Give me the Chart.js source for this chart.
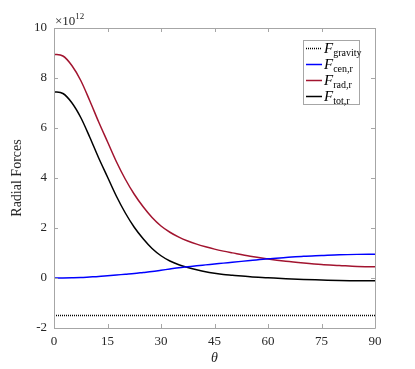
<!DOCTYPE html>
<html>
<head>
<meta charset="utf-8">
<script src="https://cdn.jsdelivr.net/npm/chart.js@4"></script>
<style>
html,body{margin:0;padding:0;background:#fff;}
#wrap{width:415px;height:369px;}
</style>
</head>
<body>
<div id="wrap"><canvas id="c" width="415" height="369"></canvas></div>
<script>
const theta = [0,2.5,5,7.5,10,12.5,15,17.5,20,22.5,25,27.5,30,32.5,35,37.5,40,42.5,45,47.5,50,55,60,65,70,75,80,85,90];
const fRad  = [8.95,8.88,8.5,7.9,7.1,6.25,5.45,4.65,3.95,3.35,2.85,2.42,2.08,1.83,1.635,1.48,1.355,1.25,1.155,1.075,1.005,0.87,0.76,0.67,0.6,0.54,0.5,0.46,0.45];
const fCen  = [0,0.003,0.01,0.02,0.04,0.06,0.09,0.12,0.15,0.18,0.22,0.26,0.31,0.36,0.41,0.45,0.49,0.525,0.56,0.595,0.63,0.70,0.77,0.82,0.87,0.90,0.93,0.945,0.95];
const fTot  = [7.45,7.38,7.01,6.42,5.64,4.81,4.04,3.27,2.6,2.03,1.57,1.18,0.89,0.68,0.53,0.42,0.33,0.25,0.19,0.14,0.11,0.05,0.01,-0.03,-0.06,-0.08,-0.1,-0.11,-0.11];
const fGrav = [-1.5,-1.5];
const gravTheta = [0,90];
const xTicks = [0,15,30,45,60,75,90];
const yTicks = [-2,0,2,4,6,8,10];
const legendNames = [["F","gravity"],["F","cen,r"],["F","rad,r"],["F","tot,r"]];

const pts = (xs, ys) => xs.map((x,i)=>({x:x,y:ys[i]}));
const SERIF = '"Liberation Serif","DejaVu Serif",serif';

const decor = {
  id:'decor',
  afterDraw(chart){
    const ctx = chart.ctx, xs = chart.scales.x, ys = chart.scales.y, a = chart.chartArea;
    ctx.save();
    ctx.strokeStyle = '#a6a6a6';
    ctx.lineWidth = 1;
    ctx.beginPath();
    ctx.rect(Math.round(a.left)+0.5, Math.round(a.top)+0.5, Math.round(a.right-a.left), Math.round(a.bottom-a.top));
    ctx.stroke();
    ctx.beginPath();
    xTicks.forEach(v=>{
      const px = Math.round(xs.getPixelForValue(v))+0.5;
      ctx.moveTo(px,a.bottom); ctx.lineTo(px,a.bottom-4);
      ctx.moveTo(px,a.top); ctx.lineTo(px,a.top+4);
    });
    yTicks.forEach(v=>{
      const py = Math.round(ys.getPixelForValue(v))+0.5;
      ctx.moveTo(a.left,py); ctx.lineTo(a.left+4,py);
      ctx.moveTo(a.right,py); ctx.lineTo(a.right-4,py);
    });
    ctx.stroke();
    ctx.fillStyle = '#262626';
    ctx.textBaseline = 'alphabetic';
    ctx.textAlign = 'left';
    ctx.font = '13px '+SERIF;
    ctx.fillText('\u00d710', a.left+1, a.top-3);
    const w = ctx.measureText('\u00d710').width;
    ctx.font = '9px '+SERIF;
    ctx.fillText('12', a.left+1+w, a.top-9);
    ctx.font = 'italic 14px '+SERIF;
    ctx.textAlign = 'center';
    ctx.fillText('\u03b8', (a.left+a.right)/2, 362);
    ctx.save();
    ctx.translate(21, (a.top+a.bottom)/2);
    ctx.rotate(-Math.PI/2);
    ctx.font = '14px '+SERIF;
    ctx.fillText('Radial Forces', 0, 0);
    ctx.restore();
    const lx = 303, ly = 40, lw = 56, lh = 64;
    ctx.fillStyle = '#fff';
    ctx.fillRect(lx, ly, lw, lh);
    ctx.strokeStyle = '#a6a6a6';
    ctx.lineWidth = 1;
    ctx.strokeRect(lx+0.5, ly+0.5, lw, lh);
    chart.data.datasets.forEach((ds,i)=>{
      const yy = ly + 8 + i*16;
      ctx.strokeStyle = ds.borderColor;
      ctx.lineWidth = ds.borderWidth;
      ctx.setLineDash(ds.borderDash || []);
      ctx.beginPath(); ctx.moveTo(lx+3, yy+0.5); ctx.lineTo(lx+19, yy+0.5); ctx.stroke();
      ctx.setLineDash([]);
      ctx.fillStyle = '#000';
      ctx.textAlign = 'left';
      ctx.font = 'italic 15px '+SERIF;
      ctx.fillText(legendNames[i][0], lx+21, yy+5);
      const fw = ctx.measureText(legendNames[i][0]).width;
      ctx.font = '10px '+SERIF;
      ctx.fillText(legendNames[i][1], lx+21+fw, yy+8);
    });
    ctx.restore();
  }
};

new Chart(document.getElementById('c'), {
  type:'line',
  data:{
    datasets:[
      {label:'F_gravity', data:pts(gravTheta,fGrav), borderColor:'#000', borderWidth:1.5, borderDash:[1,1], pointRadius:0, tension:0},
      {label:'F_cen,r', data:pts(theta,fCen), borderColor:'#0000ff', borderWidth:1.5, pointRadius:0, cubicInterpolationMode:'monotone'},
      {label:'F_rad,r', data:pts(theta,fRad), borderColor:'#a2142f', borderWidth:1.5, pointRadius:0, cubicInterpolationMode:'monotone'},
      {label:'F_tot,r', data:pts(theta,fTot), borderColor:'#000', borderWidth:1.5, pointRadius:0, cubicInterpolationMode:'monotone'}
    ]
  },
  options:{
    responsive:false,
    animation:false,
    devicePixelRatio:1,
    layout:{padding:{left:0,top:28,right:40,bottom:0}},
    plugins:{legend:{display:false}, tooltip:{enabled:false}},
    scales:{
      x:{type:'linear', min:0, max:90,
         afterBuildTicks:s=>{s.ticks = xTicks.map(v=>({value:v}));},
         afterFit:s=>{s.height = 41;},
         grid:{display:false, drawTicks:false}, border:{display:false},
         ticks:{color:'#262626', padding:6, font:{family:SERIF, size:13}, maxRotation:0}},
      y:{type:'linear', min:-2, max:10,
         afterBuildTicks:s=>{s.ticks = yTicks.map(v=>({value:v}));},
         afterFit:s=>{s.width = 54;},
         grid:{display:false, drawTicks:false}, border:{display:false},
         ticks:{color:'#262626', padding:7, font:{family:SERIF, size:13}}}
    }
  },
  plugins:[decor]
});
</script>
</body>
</html>
